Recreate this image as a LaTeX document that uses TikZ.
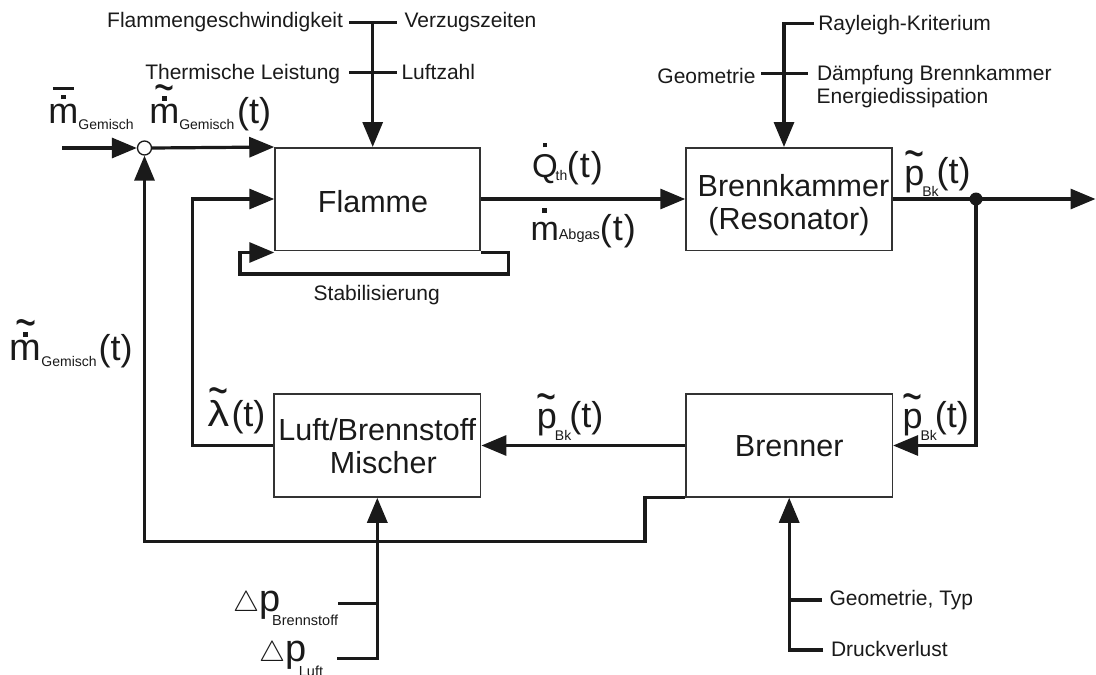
\documentclass[tikz,border=0pt]{standalone}
\usepackage{fontspec}
\setmainfont{Liberation Sans}
\usepackage{graphicx}
\usetikzlibrary{arrows.meta}
\definecolor{ink}{HTML}{1A1A1A}
\definecolor{boxc}{HTML}{333333}
\newsavebox\accbox
\newcommand\putover[3]{\sbox\accbox{#3}\makebox[\wd\accbox]{\smash{\raisebox{#1}{#2}}}\kern-\wd\accbox\usebox\accbox}
\newcommand\tild{\scalebox{0.95}[1.4]{\char"7E}}
\newcommand\sq[1]{\rule{#1}{#1}}
\newcommand\fbig{\fontsize{36}{40}\selectfont}
\newcommand\fsub{\fontsize{14}{16}\selectfont}
\newcommand\fsml{\fontsize{21}{24}\selectfont}
\newcommand\fblk{\fontsize{30.5}{33}\selectfont}
\newcommand\sbs[2]{\raisebox{#1}{\fsub #2}}
\newcommand\btext[2]{\smash{\raisebox{#1}{\begin{tabular}[t]{@{}c@{}}#2\end{tabular}}}}
\newcommand\ptil{\putover{0.42em}{\tild}{p}\kern-2pt\sbs{-11.5pt}{Bk}\kern-2pt\raisebox{1.5pt}{(t)}}
\begin{document}
\begin{tikzpicture}[x=1pt,y=-1pt,
  wire/.style={draw=ink,line width=3.2pt,line join=miter},
  arr/.style={wire,-{Triangle[length=25pt,width=20pt]}},
  blk/.style={draw=boxc,line width=1.5pt,minimum width=206pt,minimum height=103pt,inner sep=0pt,font=\fblk,text=ink},
  lab/.style={inner sep=0pt,outer sep=0pt,text=ink},
  sml/.style={lab,font=\fsml}]
\useasboundingbox (0,0) rectangle (1096,675);
\fill[white] (0,0) rectangle (1096,675);

% blocks
\node[blk,minimum width=205pt,minimum height=102.5pt] (fl) at (377.5,199) {\btext{-13.3pt}{Flamme\hspace*{9pt}}};
\node[blk,minimum height=102.5pt] (bk) at (789,199) {\btext{2.5pt}{\hspace*{9pt}Brennkammer\\(Resonator)}};
\node[blk,minimum width=206.7pt] (mi) at (377.3,445.5) {\btext{4.8pt}{Luft/Brennstoff\\\hspace*{12pt}Mischer}};
\node[blk,minimum width=206.3pt] (br) at (789.2,445.5) {\btext{-11.2pt}{Brenner}};

% summing point
\node[circle,draw=ink,fill=white,line width=1.3pt,minimum size=14pt,inner sep=0pt] (sum) at (144.5,148) {};
\coordinate (inp) at (62,148);
\coordinate (out) at (1095.5,199);

% coordinates
\coordinate (fA) at (372.7,22.3);
\coordinate (f1l) at (349,22.3);
\coordinate (f1r) at (397,22.3);
\coordinate (f2l) at (349,72.7);
\coordinate (f2r) at (397,72.7);
\coordinate (kA) at (814,23.3);
\coordinate (kB) at (784,23.3);
\coordinate (k1l) at (761,73.3);
\coordinate (k1r) at (808,73.3);
\coordinate (sR) at (508.3,274);
\coordinate (sL) at (240,274);
\coordinate (fb) at (192.7,445.5);
\coordinate (st) at (645,541.5);
\coordinate (stb) at (144.5,541.5);
\coordinate (mA) at (377.3,658.3);
\coordinate (mC) at (337.3,658.3);
\coordinate (mT) at (338.3,603.3);
\coordinate (bA) at (789.2,650);
\coordinate (bC) at (823,650);
\coordinate (bT) at (789.2,600);
\coordinate (bTe) at (821.6,600);

% connectors
\draw[arr] (inp) -- (sum.west);
\draw[arr] (sum.east) -- (fl.north west);
\draw[arr] (fA) -- (fA |- fl.north);
\draw[wire] (f1l) -- (f1r);
\draw[wire] (f2l) -- (f2r);
\draw[arr] (fl.east) -- (fl.east -| bk.west);
\draw[arr] (kA) -- (kB) -- (kB |- bk.north);
\draw[wire] (k1l) -- (k1r);
\draw[arr] (bk.east) -- (out);
\node[circle,fill=ink,minimum size=13pt,inner sep=0pt] (jn) at (976,199) {};
\draw[arr] (jn.center) |- (br.east);
\draw[arr] (br.west) -- (mi.east);
\draw[arr] (mi.west) -- (fb) |- (fl.west);
\draw[arr] ([yshift=-1.5pt]fl.south east) -| (sR) -- (sL) |- ([yshift=-1.5pt]fl.south west);
\draw[arr] (br.south west) -| (st) -- (stb) -- (sum.south);
\draw[arr] (mC) -- (mA) -- (mi.south);
\draw[wire] (mT) -- (mT -| mA);
\draw[arr] (bC) -- (bA) -- (br.south);
\draw[wire] (bT) -- (bTe);

% small labels
\node[sml,anchor=base east] (lfg) at (343,27.5) {Flammengeschwindigkeit};
\node[sml,anchor=base west] (lvz) at (404.5,27.5) {Verzugszeiten};
\node[sml,anchor=base east] (ltl) at (340.2,79.5) {Thermische Leistung};
\node[sml,anchor=base west] (llz) at (401.5,79.5) {Luftzahl};
\node[sml,anchor=base west] (lrk) at (818.3,30.7) {Rayleigh-Kriterium};
\node[sml,anchor=base east] (lgeo) at (755.5,83.3) {Geometrie};
\node[sml,anchor=base west] (ldb) at (817,80) {Dämpfung Brennkammer};
\node[sml,anchor=base west] (led) at (816.7,103.3) {Energiedissipation};
\node[sml,anchor=base] (lstab) at (376.7,300.7) {Stabilisierung};
\node[sml,anchor=base west] (lgt) at (829.6,605) {Geometrie, Typ};
\node[sml,anchor=base west] (ldv) at (831,656) {Druckverlust};

% signal labels
\node[lab,anchor=base west,font=\fbig] (lmbar) at (48.5,123.3) {\putover{0.925em}{\rule{0.583em}{0.083em}}{\putover{0.667em}{\sq{0.125em}}{m}}\sbs{-6pt}{Gemisch}};
\node[lab,anchor=base west,font=\fbig] (lmtil) at (149.3,123.3) {\putover{0.53em}{\tild}{\putover{0.62em}{\sq{0.125em}}{m}}\sbs{-6.5pt}{Gemisch}\kern2.5pt(t)};
\node[lab,anchor=base west,font=\fontsize{38}{40}\selectfont] (lmfb) at (9.8,360.7) {\putover{0.53em}{\tild}{\putover{0.62em}{\sq{0.125em}}{m}}\sbs{-6pt}{Gemisch}\kern2pt{\fbig(t)}};
\node[lab,anchor=base west,font=\fontsize{33}{36}\selectfont] (lq) at (532,177.5) {\putover{0.915em}{\sq{0.12em}}{Q}\kern-2pt\sbs{-3pt}{th}\kern-0.5pt{\fbig(\kern1pt t\kern1pt)}};
\node[lab,anchor=base west,font=\fontsize{34}{36}\selectfont] (lma) at (530.5,240) {\putover{0.80em}{\sq{0.13em}}{m}\raisebox{1pt}{\fontsize{14.5}{16}\selectfont Abgas}{\fbig(\kern1pt t\kern1pt)}};
\node[lab,anchor=base west,font=\fbig] (lp1) at (904.3,185.2) {\ptil};
\node[lab,anchor=base west,font=\fbig] (lp2) at (536.9,428.5) {\ptil};
\node[lab,anchor=base west,font=\fbig] (lp3) at (902.6,428.5) {\ptil};
\node[lab,anchor=base west,font=\fbig] (llam) at (207.5,426.7) {\putover{0.53em}{\tild}{\scalebox{1.2}[1]{λ}}\kern2.4pt(t)};
\node[lab,anchor=base west,font=\fontsize{38}{40}\selectfont] (ldpb) at (233.4,611.7) {\resizebox{26pt}{20pt}{$\triangle$}p\kern-8.3pt\raisebox{-13.3pt}{\fontsize{14.5}{16}\selectfont Brennstoff}};
\node[lab,anchor=base west,font=\fontsize{38}{40}\selectfont] (ldpl) at (259.9,661.7) {\resizebox{26pt}{20pt}{$\triangle$}p\kern-8.1pt\raisebox{-14.3pt}{\fontsize{14.5}{16}\selectfont Luft}};
\end{tikzpicture}
\end{document}
